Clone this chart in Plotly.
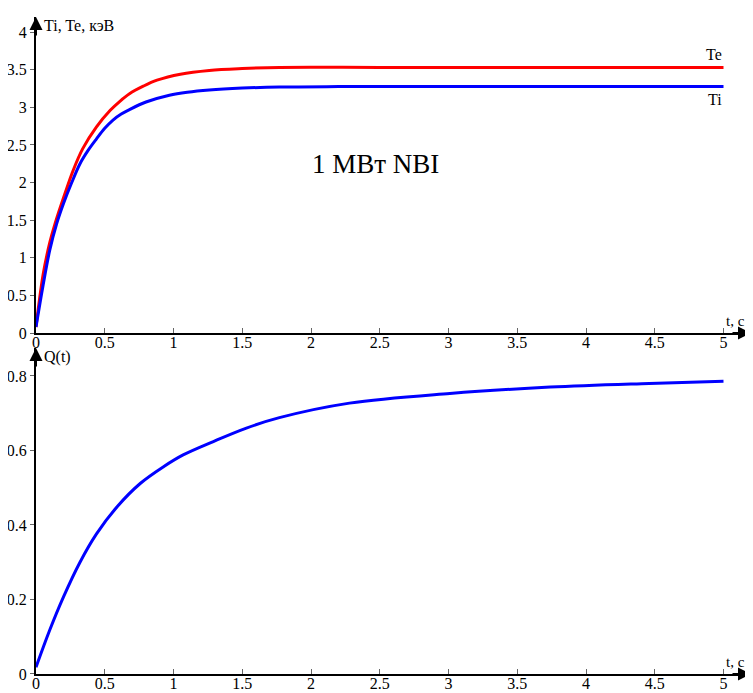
import plotly.graph_objects as go
from plotly.subplots import make_subplots

# ---- data ----
te_t = [0, 0.053, 0.10, 0.138, 0.21, 0.27, 0.34, 0.44, 0.54, 0.61, 0.68, 0.78, 0.88, 1.05, 1.26, 1.5, 1.77, 2.5, 3.5, 5.0]
te_v = [0.08, 0.79, 1.20, 1.45, 1.85, 2.16, 2.45, 2.74, 2.96, 3.08, 3.18, 3.28, 3.36, 3.44, 3.49, 3.515, 3.53, 3.53, 3.53, 3.53]

ti_t = [0, 0.05, 0.10, 0.15, 0.20, 0.26, 0.32, 0.38, 0.44, 0.50, 0.56, 0.62, 0.68, 0.80, 0.97, 1.10, 1.26, 1.5, 1.77, 2.2, 3.0, 4.0, 5.0]
ti_v = [0.08, 0.62, 1.10, 1.45, 1.72, 2.00, 2.25, 2.43, 2.58, 2.72, 2.83, 2.91, 2.97, 3.07, 3.16, 3.20, 3.23, 3.255, 3.27, 3.275, 3.275, 3.275, 3.275]

q_t = [0, 0.10, 0.20, 0.32, 0.44, 0.59, 0.76, 0.93, 1.07, 1.29, 1.53, 1.77, 2.28, 3.01, 3.74, 4.46, 5.0]
q_v = [0.018, 0.118, 0.207, 0.300, 0.376, 0.449, 0.512, 0.557, 0.588, 0.624, 0.66, 0.688, 0.727, 0.753, 0.770, 0.780, 0.786]

x_ticks = [0, 0.5, 1, 1.5, 2, 2.5, 3, 3.5, 4, 4.5, 5]
x_labels = ["0", "0.5", "1", "1.5", "2", "2.5", "3", "3.5", "4", "4.5", "5"]
top_y_ticks = [0, 0.5, 1, 1.5, 2, 2.5, 3, 3.5, 4]
top_y_labels = ["0", "0.5", "1", "1.5", "2", "2.5", "3", "3.5", "4"]
bot_y_ticks = [0, 0.2, 0.4, 0.6, 0.8]
bot_y_labels = ["0", "0.2", "0.4", "0.6", "0.8"]

FONT = "Liberation Serif, Times New Roman, serif"

fig = make_subplots(rows=2, cols=1)

fig.add_trace(go.Scatter(x=te_t, y=te_v, mode="lines", line=dict(color="#ff0000", width=3, shape="spline"),
                         name="Te", showlegend=False), row=1, col=1)
fig.add_trace(go.Scatter(x=ti_t, y=ti_v, mode="lines", line=dict(color="#0000ff", width=3, shape="spline"),
                         name="Ti", showlegend=False), row=1, col=1)
fig.add_trace(go.Scatter(x=q_t, y=q_v, mode="lines", line=dict(color="#0000ff", width=3, shape="spline"),
                         name="Q(t)", showlegend=False), row=2, col=1)

common_x = dict(range=[0, 5.2], showgrid=False, zeroline=False, showline=True, linecolor="black", linewidth=2,
                ticks="inside", ticklen=5, tickcolor="#666", tickwidth=1, automargin=False,
                ticklabelstandoff=-6,
                tickvals=x_ticks, ticktext=x_labels, tickfont=dict(family=FONT, size=16, color="black"))
common_y = dict(showgrid=False, zeroline=False, showline=True, linecolor="black", linewidth=2,
                ticks="outside", ticklen=4, tickcolor="#666", tickwidth=1, automargin=False,
                tickfont=dict(family=FONT, size=16, color="black"))

fig.update_layout(
    width=745, height=685,
    margin=dict(l=28, r=1.5, t=9, b=19, autoexpand=False),
    plot_bgcolor="white", paper_bgcolor="white",
    xaxis=dict(domain=[0, 1], **common_x),
    xaxis2=dict(domain=[0, 1], **common_x),
    yaxis=dict(domain=[0.519, 1], range=[0, 4.2], tickvals=top_y_ticks, ticktext=top_y_labels, **common_y),
    yaxis2=dict(domain=[0, 0.4962], range=[0, 0.875], tickvals=bot_y_ticks, ticktext=bot_y_labels, **common_y),
)

# axis arrows
arrow = dict(text="", showarrow=True, arrowhead=2, arrowsize=1.3, arrowwidth=2, arrowcolor="black")
fig.add_annotation(x=5.2, y=0, xref="x", yref="y", ax=-20, ay=0, **arrow)
fig.add_annotation(x=0, y=4.2, xref="x", yref="y", ax=0, ay=20, **arrow)
fig.add_annotation(x=5.2, y=0, xref="x2", yref="y2", ax=-20, ay=0, **arrow)
fig.add_annotation(x=0, y=0.875, xref="x2", yref="y2", ax=0, ay=20, **arrow)

txt = dict(showarrow=False, font=dict(family=FONT, size=16, color="black"))
small = dict(showarrow=False, font=dict(family=FONT, size=15, color="black"))
fig.add_annotation(x=0, y=4.2, xref="x", yref="y", text="Ti, Te, кэВ", xanchor="left", yanchor="top",
                   xshift=6, yshift=2, **txt)
fig.add_annotation(x=5.2, y=0, xref="x", yref="y", text="t, с", xanchor="right", yanchor="bottom",
                   xshift=-4, yshift=2, **small)
fig.add_annotation(x=0, y=0.875, xref="x2", yref="y2", text="Q(t)", xanchor="left", yanchor="top",
                   xshift=6, yshift=2, **txt)
fig.add_annotation(x=5.2, y=0, xref="x2", yref="y2", text="t, с", xanchor="right", yanchor="bottom",
                   xshift=-4, yshift=2, **small)
fig.add_annotation(x=5.0, y=te_v[-1], xref="x", yref="y", text="Te", xanchor="right", yanchor="bottom",
                   yshift=2, **txt)
fig.add_annotation(x=5.0, y=ti_v[-1], xref="x", yref="y", text="Ti", xanchor="right", yanchor="top",
                   yshift=-2, **txt)
fig.add_annotation(x=2.47, y=2.24, xref="x", yref="y", text="1 МВт NBI", xanchor="center", yanchor="middle",
                   showarrow=False, font=dict(family=FONT, size=27, color="black"))

fig.write_html("out.html")
